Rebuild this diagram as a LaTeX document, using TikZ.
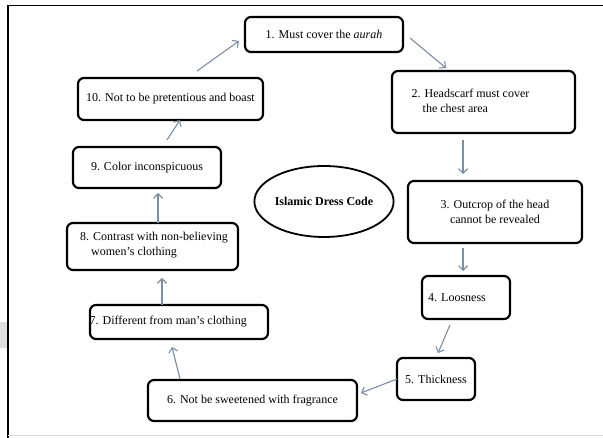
\documentclass[tikz,border=0pt]{standalone}
\usepackage{fontspec}
\setmainfont{Liberation Serif}
\usetikzlibrary{arrows.meta,shapes.geometric}
\definecolor{arrowc}{RGB}{122,142,168}
\begin{document}
\begin{tikzpicture}[x=1pt,y=-1pt,
  box/.style={draw=black, line width=2.2pt, rounded corners=6pt, inner sep=0pt, font=\fontsize{12}{14.5}\selectfont},
  txt/.style={inner sep=0pt, font=\fontsize{12}{15}\selectfont, align=left},
  arr/.style={draw=arrowc, line width=1.1pt, -{Straight Barb[length=4.5pt,width=9pt]}}
]
\useasboundingbox (0,0) rectangle (603,438);
% frame
\fill[gray!25] (0,322) rectangle (7,348);
\draw[line width=1.5pt] (8,438) -- (8,5.5) -- (603,5.5);
\draw[gray!25, line width=0.8pt] (8,435.5) -- (603,435.5);

% boxes
\node[box, minimum width=158pt, minimum height=35pt] (b1) at (324,34.5) {1. Must cover the \textit{aurah}};
\node[box, minimum width=183pt, minimum height=62pt] (b2) at (483.5,102) {};
\node[txt, anchor=west] (t2) at (411.5,100.5) {2. Headscarf must cover\\\hspace{11pt}the chest area};
\node[box, minimum width=174pt, minimum height=62pt, align=center] (b3) at (495,212) {3. Outcrop of the head\\cannot be revealed};
\node[box, minimum width=88pt, minimum height=43pt] (b4) at (466,297.5) {};
\node[txt, anchor=west] (t4) at (428,297.5) {4. Loosness};
\node[box, minimum width=78pt, minimum height=42pt] (b5) at (436,379) {5. Thickness};
\node[box, minimum width=209pt, minimum height=41pt] (b6) at (252.5,400.5) {6. Not be sweetened with fragrance};
\node[box, minimum width=178pt, minimum height=34pt] (b7) at (179,322) {};
\node[txt, anchor=west] (t7) at (89.5,322) {7. Different from man’s clothing};
\node[box, minimum width=171pt, minimum height=47pt] (b8) at (152.5,246.5) {};
\node[txt, anchor=west] (t8) at (80,245) {8. Contrast with non-believing\\\hspace{11pt}women’s clothing};
\node[box, minimum width=148pt, minimum height=41pt] (b9) at (147,167.5) {9. Color inconspicuous};
\node[box, minimum width=185pt, minimum height=42pt] (b10) at (170.5,99) {10. Not to be pretentious and boast};
\node[draw=black, line width=1.8pt, ellipse, minimum width=138pt, minimum height=71pt, inner sep=0pt, font=\fontsize{12}{14}\selectfont\bfseries] (c) at (324,201.5) {Islamic Dress Code};

% connector ends
\coordinate (a1s) at (197,71);  \coordinate (a1e) at (239,41);
\coordinate (a2s) at (410,38);  \coordinate (a2e) at (446,68);
\coordinate (a3s) at (463,140); \coordinate (a3e) at (463,174);
\coordinate (a4s) at (463,248); \coordinate (a4e) at (463,271);
\coordinate (a5s) at (450,325); \coordinate (a5e) at (438,353);
\coordinate (a6s) at (397,379); \coordinate (a6e) at (361,393);
\coordinate (a7s) at (180,379); \coordinate (a7e) at (172,347);
\coordinate (a8s) at (162,305); \coordinate (a8e) at (162,278);
\coordinate (a9s) at (158,223); \coordinate (a9e) at (158,193);
\coordinate (a10s) at (167,140); \coordinate (a10e) at (180,120);

\draw[arr] (a1s) -- (a1e);
\draw[arr] (a2s) -- (a2e);
\draw[arr] (a3s) -- (a3e);
\draw[arr] (a4s) -- (a4e);
\draw[arr] (a5s) -- (a5e);
\draw[arr] (a6s) -- (a6e);
\draw[arr] (a7s) -- (a7e);
\draw[arr] (a8s) -- (a8e);
\draw[arr] (a9s) -- (a9e);
\draw[arr] (a10s) -- (a10e);
\end{tikzpicture}
\end{document}
